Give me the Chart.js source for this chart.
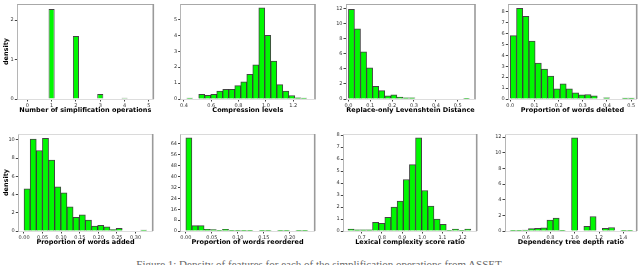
<!DOCTYPE html>
<html>
<head>
<meta charset="utf-8">
<script src="https://cdn.jsdelivr.net/npm/chart.js@4.4.1/dist/chart.umd.min.js"></script>
<style>
  body { margin: 0; width: 640px; height: 265px; overflow: hidden; background: #fff; position: relative; }
  canvas { position: absolute; }
  #cap { position: absolute; left: 0; width: 640px; top: 258px; text-align: center;
         font: 11px "Liberation Serif", serif; color: #666; white-space: nowrap; }
</style>
</head>
<body>
<div id="cap">Figure 1: Density of features for each of the simplification operations from ASSET.</div>
<script>
// histogram bin centres and densities

// Number of simplification operations
var opsBins = [1, 2, 3, 4];
var opsDensity = [2.28, 1.60, 0.13, 0.03];

// Compression levels
var compBins = [0.442, 0.486, 0.530, 0.574, 0.618, 0.662, 0.706, 0.750, 0.794, 0.838,
                0.882, 0.926, 0.970, 1.014, 1.058, 1.102, 1.146, 1.190, 1.234, 1.278];
var compDensity = [0.06, 0, 0.30, 0.23, 0.30, 0.49, 0.60, 0.61, 0.84, 1.08,
                   1.55, 2.14, 5.73, 4.00, 2.39, 0.90, 0.49, 0.22, 0.08, 0.06];

// Replace-only Levenshtein Distance
var levBins = [0.0139, 0.0416, 0.0693, 0.0970, 0.1247, 0.1524, 0.1801, 0.2078, 0.2355, 0.2632,
               0.2909, 0.3186, 0.3463, 0.3740, 0.4017, 0.4294, 0.4571, 0.4848, 0.5125, 0.5402];
var levDensity = [11.95, 9.34, 6.27, 4.14, 1.70, 1.12, 0.43, 0.55, 0.26, 0.17,
                  0.15, 0, 0, 0, 0, 0, 0, 0, 0, 0.10];

// Proportion of words deleted
var delBins = [0.0129, 0.0386, 0.0643, 0.0900, 0.1157, 0.1414, 0.1671, 0.1928, 0.2185, 0.2442,
               0.2699, 0.2956, 0.3213, 0.3470, 0.3727, 0.3984, 0.4241, 0.4498, 0.4755, 0.5012];
var delDensity = [5.80, 8.30, 7.56, 5.30, 3.30, 2.74, 2.10, 0.94, 1.40, 0.94,
                  0.56, 0.38, 0.41, 0.30, 0, 0.10, 0, 0, 0.08, 0.08];

// Proportion of words added
var addBins = [0.0083, 0.0248, 0.0413, 0.0578, 0.0743, 0.0908, 0.1073, 0.1238, 0.1403, 0.1568,
               0.1733, 0.1898, 0.2063, 0.2228, 0.2393, 0.2558, 0.2723, 0.2888, 0.3053, 0.3218];
var addDensity = [4.64, 10.10, 8.84, 10.18, 7.79, 4.86, 4.20, 2.64, 1.49, 1.78,
                  1.20, 0.54, 0.62, 0.47, 0.15, 0.29, 0, 0, 0, 0.10];

// Proportion of words reordered
var reoBins = [0.0059, 0.0176, 0.0294, 0.0411, 0.0529, 0.0646, 0.0764, 0.0881, 0.0999, 0.1116,
               0.1234, 0.1351, 0.1469, 0.1586, 0.1704, 0.1821, 0.1939, 0.2056, 0.2174, 0.2291];
var reoDensity = [68.4, 3.9, 3.9, 1.2, 1.1, 0.5, 1.2, 0.3, 0.3, 0.3,
                  0.3, 0, 0.3, 0.3, 0, 0.3, 0.2, 0, 0.3, 0.3];

// Lexical complexity score ratio
var lexBins = [0.6472, 0.6776, 0.7080, 0.7384, 0.7688, 0.7992, 0.8296, 0.8600, 0.8904, 0.9208,
               0.9512, 0.9816, 1.0120, 1.0424, 1.0728, 1.1032, 1.1336, 1.1640, 1.1944, 1.2248];
var lexDensity = [0.17, 0.10, 0.10, 0.10, 0.72, 0.65, 1.14, 2.00, 2.50, 4.30,
                  5.54, 7.78, 3.38, 2.08, 1.00, 0.55, 0.03, 0.17, 0.05, 0.17];

// Dependency tree depth ratio
var depBins = [0.4933, 0.5439, 0.5945, 0.6451, 0.6957, 0.7463, 0.7969, 0.8475, 0.8981, 0.9487,
               0.9993, 1.0499, 1.1005, 1.1511, 1.2017, 1.2523, 1.3029, 1.3535, 1.4041, 1.4547];
var depDensity = [0.10, 0.05, 0.13, 0.30, 0.35, 0.40, 1.38, 1.65, 0.10, 0,
                  11.9, 0, 0.60, 1.85, 0, 0.35, 0.45, 0, 0.10, 0.10];

var FONT = "'DejaVu Sans', sans-serif";

// draws the top edge and the darker right edge of each axes box
var frame = {
  id: 'frame',
  afterDraw: function(chart, args, opts) {
    var ctx = chart.ctx, a = chart.chartArea;
    ctx.save();
    ctx.lineWidth = 1;
    ctx.strokeStyle = opts.top || '#d6d6d6';
    ctx.beginPath(); ctx.moveTo(a.left, a.top + 0.5); ctx.lineTo(a.right, a.top + 0.5); ctx.stroke();
    ctx.lineWidth = 1.6;
    ctx.strokeStyle = '#9a9a9a';
    ctx.beginPath(); ctx.moveTo(a.right, a.top); ctx.lineTo(a.right, a.bottom); ctx.stroke();
    ctx.restore();
  }
};

function panel(p) {
  var yW = p.density ? p.l : 16;
  var cl = Math.floor(p.l - yW);
  yW = p.l - cl;
  var ct = Math.floor(p.t) - p.padT;
  var w = Math.ceil(p.r - cl + 3);
  var h = Math.ceil(p.b - ct + 18);

  var cv = document.createElement('canvas');
  cv.width = w; cv.height = h;
  cv.style.left = cl + 'px'; cv.style.top = ct + 'px';
  document.body.appendChild(cv);

  var pts = p.bins.map(function(x, i) { return { x: x, y: p.dens[i] }; });

  new Chart(cv, {
    type: 'bar',
    data: {
      datasets: [{
        data: pts,
        backgroundColor: 'rgb(0,248,0)',
        borderColor: 'rgba(35,35,35,0.85)',
        borderWidth: 1,
        barPercentage: p.barPct || 1,
        categoryPercentage: 1
      }]
    },
    options: {
      responsive: false,
      animation: false,
      events: [],
      layout: { padding: { left: 0, top: p.t - ct, right: w - (p.r - cl), bottom: 0 } },
      plugins: {
        legend: { display: false },
        tooltip: { enabled: false },
        frame: { top: p.t < 5 ? '#a8a8a8' : '#dadada' }
      },
      scales: {
        x: {
          type: 'linear',
          offset: false,
          min: p.xMin, max: p.xMax,
          afterFit: function(s) { s.height = h - (p.b - ct); },
          grid: { offset: false, drawOnChartArea: false, tickLength: 2.5, color: '#444' },
          border: { color: '#dddddd' },
          ticks: {
            stepSize: p.xStep, includeBounds: false, autoSkip: false, maxRotation: 0,
            padding: 1, color: '#333', font: { family: FONT, size: 5 },
            callback: function(v) { return v.toFixed(p.xDec); }
          },
          title: {
            display: true, text: p.title, color: '#000',
            font: { family: FONT, size: 6.5, weight: 'bold' },
            padding: { top: 0, bottom: 2.4 }
          }
        },
        y: {
          min: 0, max: p.yMax,
          afterFit: function(s) { s.width = yW; },
          grid: { drawOnChartArea: false, tickLength: 2.5, color: '#444' },
          border: { color: '#b5b5b5' },
          ticks: {
            stepSize: p.yStep, includeBounds: false, autoSkip: false,
            padding: 1, color: '#333', font: { family: FONT, size: 5 }
          },
          title: {
            display: !!p.density, text: 'density', color: '#000',
            font: { family: FONT, size: 6.5, weight: 'bold' },
            padding: { top: 2, bottom: 0 }
          }
        }
      }
    },
    plugins: [frame]
  });
}

panel({ bins: opsBins, dens: opsDensity, title: 'Number of simplification operations', density: true,
        l: 17.3, r: 153.3, t: 1, b: 99, padT: 1, xMin: -0.41, xMax: 5.18, xStep: 1, xDec: 0,
        yMax: 2.41, yStep: 1, barPct: 0.25 });
panel({ bins: compBins, dens: compDensity, title: 'Compression levels',
        l: 180.7, r: 315, t: 1, b: 99, padT: 1, xMin: 0.376, xMax: 1.36, xStep: 0.2, xDec: 1,
        yMax: 5.97, yStep: 1 });
panel({ bins: levBins, dens: levDensity, title: 'Replace-only Levenshtein Distance',
        l: 346, r: 475, t: 1, b: 99, padT: 1, xMin: -0.011, xMax: 0.579, xStep: 0.1, xDec: 1,
        yMax: 12.65, yStep: 2 });
panel({ bins: delBins, dens: delDensity, title: 'Proportion of words deleted',
        l: 508.3, r: 636.7, t: 1, b: 99, padT: 1, xMin: -0.0083, xMax: 0.523, xStep: 0.1, xDec: 1,
        yMax: 8.7, yStep: 1 });
panel({ bins: addBins, dens: addDensity, title: 'Proportion of words added', density: true,
        l: 18.3, r: 152.7, t: 133, b: 231, padT: 3, xMin: -0.0153, xMax: 0.346, xStep: 0.05, xDec: 2,
        yMax: 10.65, yStep: 2 });
panel({ bins: reoBins, dens: reoDensity, title: 'Proportion of words reordered',
        l: 180.5, r: 314.7, t: 133, b: 231, padT: 3, xMin: -0.0102, xMax: 0.248, xStep: 0.05, xDec: 2,
        yMax: 71.3, yStep: 8 });
panel({ bins: lexBins, dens: lexDensity, title: 'Lexical complexity score ratio',
        l: 343.3, r: 476.7, t: 133, b: 231, padT: 3, xMin: 0.609, xMax: 1.269, xStep: 0.1, xDec: 1,
        yMax: 8.1, yStep: 1 });
panel({ bins: depBins, dens: depDensity, title: 'Dependency tree depth ratio',
        l: 505, r: 636.7, t: 133, b: 231, padT: 3, xMin: 0.427, xMax: 1.51, xStep: 0.2, xDec: 1,
        yMax: 12.4, yStep: 2 });
</script>
</body>
</html>
